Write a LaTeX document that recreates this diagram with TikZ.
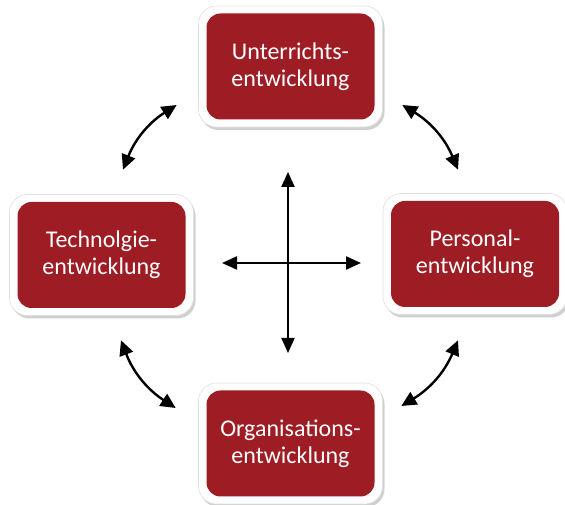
\documentclass[tikz,border=0pt]{standalone}
\usepackage{fontspec}
\setmainfont{Carlito}
\usetikzlibrary{arrows.meta,shadows}
\definecolor{stagered}{RGB}{158,28,36}
\tikzset{
  frame/.style={fill=white, draw=black!12, line width=0.6pt, rounded corners=18pt, minimum width=184pt, minimum height=121pt,
    drop shadow={shadow xshift=2pt, shadow yshift=-3pt, opacity=0.3, fill=black!60}},
  stage/.style={fill=stagered, rounded corners=14pt, minimum width=168pt, minimum height=106pt,
    text=white, align=center, font=\fontsize{24}{27}\selectfont},
  biarrow/.style={line width=2.4pt, {Triangle[length=15pt,width=14pt]}-{Triangle[length=15pt,width=14pt]}},
  cross/.style={line width=2.2pt, -{Triangle[length=15pt,width=13pt]}}
}

\begin{document}
\begin{tikzpicture}[x=1pt, y=1pt]
	%%%%% START %%%%%
	\fill[white] (0,0) rectangle (565,505);
	\useasboundingbox (0,0) rectangle (565,505);
	
	% the four fields
	\node[frame] (uframe) at (290.5,438.5) {};
	\node[stage] (unter) at (uframe.center) {Unterrichts-\\entwicklung};
	
	\node[frame] (tframe) at (101.5,250) {};
	\node[stage] (tech) at (tframe.center) {Technolgie-\\entwicklung};
	
	\node[frame] (pframe) at (475,251) {};
	\node[stage] (pers) at (pframe.center) {Personal-\\entwicklung};
	
	\node[frame] (oframe) at (290.5,61.5) {};
	\node[stage] (orga) at (oframe.center) {Organisations-\\entwicklung};
	
	% curved double arrows between neighbours
	\draw[biarrow] ([shift={(21.5,24.5)}]tframe.north) to[bend left=18] ([shift={(-21.5,-38.5)}]uframe.west);
	\draw[biarrow] ([shift={(19.5,-38.5)}]uframe.east) to[bend left=18] ([shift={(-17,23.5)}]pframe.north);
	\draw[biarrow] ([shift={(-17,-25.5)}]pframe.south) to[bend left=18] ([shift={(18.5,37.5)}]oframe.east);
	\draw[biarrow] ([shift={(-22.5,35.5)}]oframe.west) to[bend left=18] ([shift={(19.5,-24.5)}]tframe.south);
	
	% cross in the middle
	\coordinate (mid) at (288,242);
	\coordinate (up) at (288,333);
	\coordinate (down) at (288,152);
	\coordinate (left) at (222,242);
	\coordinate (right) at (361,242);
	\draw[cross] (mid) -- (up);
	\draw[cross] (mid) -- (down);
	\draw[cross] (mid) -- (left);
	\draw[cross] (mid) -- (right);
	%%%%% END %%%%%
\end{tikzpicture}
\end{document}
